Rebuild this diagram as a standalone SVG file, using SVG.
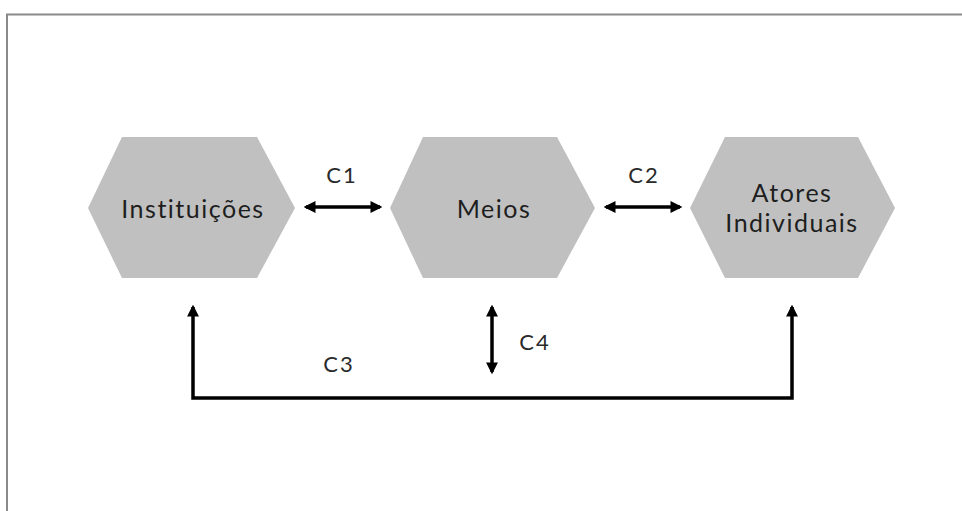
<svg xmlns="http://www.w3.org/2000/svg" width="962" height="511" viewBox="0 0 962 511">
  <style>
    .hex { fill: #c0c0c0; }
    .lbl { font-family: "Lato", "Liberation Sans", sans-serif; fill: #1e1e1e; text-anchor: middle; }
    .node { font-size: 25px; letter-spacing: 1.5px; }
    .conn { font-size: 22px; letter-spacing: 2px; fill: #2a2a2a; }
    .wire { fill: none; stroke: #000; stroke-width: 3.5; }
  </style>
  <defs>
    <marker id="tip" viewBox="0 0 10 10" refX="8" refY="5" markerWidth="3.4" markerHeight="3.4" orient="auto-start-reverse" markerUnits="strokeWidth">
      <path d="M0,0 L10,5 L0,10 Z" fill="#000"/>
    </marker>
  </defs>

  <rect width="962" height="511" fill="#fff"/>
  <!-- frame -->
  <path d="M7,511 V14.5 H962" fill="none" stroke="#8a8a8a" stroke-width="2"/>

  <g id="instituicoes">
    <polygon class="hex" points="122,137 257,137 295,208 257,278 122,278 88,208"/>
    <text class="lbl node" x="193" y="218">Instituições</text>
  </g>

  <g id="meios">
    <polygon class="hex" points="423,137 557,137 595,208 557,278 423,278 390,208"/>
    <text class="lbl node" x="494" y="218">Meios</text>
  </g>

  <g id="atores">
    <polygon class="hex" points="725,137 858,137 895,208 858,278 725,278 690,208"/>
    <text class="lbl node" x="792" y="202">Atores</text>
    <text class="lbl node" x="792" y="232">Individuais</text>
  </g>

  <g id="connectors">
    <line class="wire" x1="306" y1="207" x2="380" y2="207" marker-start="url(#tip)" marker-end="url(#tip)"/>
    <line class="wire" x1="606" y1="207" x2="680" y2="207" marker-start="url(#tip)" marker-end="url(#tip)"/>
    <line class="wire" x1="492" y1="307" x2="492" y2="372" marker-start="url(#tip)" marker-end="url(#tip)"/>
    <path class="wire" d="M193,307 V398 H792 V307" stroke-linejoin="miter" marker-start="url(#tip)" marker-end="url(#tip)"/>
    <text class="lbl conn" x="342" y="183">C1</text>
    <text class="lbl conn" x="644" y="183">C2</text>
    <text class="lbl conn" x="339" y="372">C3</text>
    <text class="lbl conn" x="535" y="350">C4</text>
  </g>
</svg>
